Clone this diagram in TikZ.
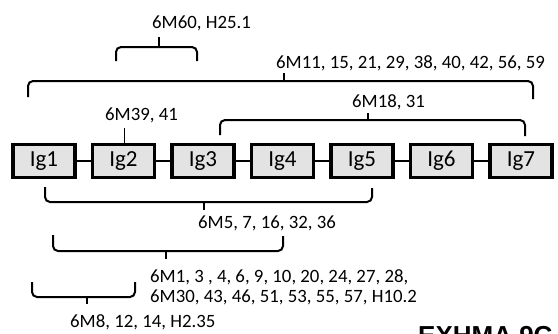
\documentclass[tikz,border=0pt]{standalone}
\usepackage{fontspec}
\setmainfont{Carlito}
\newfontfamily\exfont{Liberation Sans}
\begin{document}
\begin{tikzpicture}[x=1pt,y=-1pt,
  igbox/.style={draw=black, line width=3.4pt, fill=gray!22, minimum width=62pt, minimum height=32.5pt, inner sep=0pt, font=\fontsize{23}{26}\selectfont},
  conn/.style={line width=2.6pt},
  brk/.style={line width=2pt, rounded corners=5pt},
  tick/.style={line width=1.6pt},
  lbl/.style={inner sep=0pt, anchor=west, font=\fontsize{18.8}{22}\selectfont, text=black}
]
\useasboundingbox (0,0) rectangle (558,333);
\clip (0,0) rectangle (558,333);

% Ig domains
\foreach \i in {1,...,7} {
  \node[igbox] (ig\i) at ({44+79.5*(\i-1)},161) {Ig\i};
}
\foreach \i/\j in {1/2,2/3,3/4,4/5,5/6,6/7} {
  \draw[conn] (ig\i) -- (ig\j);
}

% top brackets
\draw[brk] (116,61) -- (116,47) -- (197,47) -- (197,61);
\draw[tick] (159,47) -- (159,37);
\node[lbl] (l60) at (152,23) {6M60, H25.1};

\draw[brk] (28,97) -- (28,81) -- (533,81) -- (533,99);
\draw[tick] (284,81) -- (284,73);
\node[lbl] (l11) at (276,63) {6M11, 15, 21, 29, 38, 40, 42, 56, 59};

\node[lbl] (l39) at (105,115) {6M39, 41};
\coordinate (t39) at (124.5,128);
\draw[tick] (t39) -- (t39 |- ig2.north);

\draw[brk] (220,135) -- (220,120) -- (525,120) -- (525,136);
\draw[tick] (368,120) -- (368,113);
\node[lbl] (l18) at (352,102) {6M18, 31};

% bottom brackets
\draw[brk] (45,187) -- (45,202) -- (372,202) -- (372,188);
\draw[tick] (204,202) -- (204,210);
\node[lbl] (l5) at (198,223) {6M5, 7, 16, 32, 36};

\draw[brk] (53,235) -- (53,251) -- (283,251) -- (283,236);
\draw[tick] (166,251) -- (166,259);
\node[lbl] (l1a) at (150,277) {6M1, 3 , 4, 6, 9, 10, 20, 24, 27, 28,};
\node[lbl] (l1b) at (150,297) {6M30, 43, 46, 51, 53, 55, 57, H10.2};

\draw[brk] (32,282) -- (32,297) -- (135,297) -- (135,282);
\draw[tick] (87,297) -- (87,304);
\node[lbl] (l8) at (70,322) {6M8, 12, 14, H2.35};

% cut-off caption
\node[inner sep=0pt, anchor=base west, font=\exfont\bfseries\fontsize{26}{30}\selectfont] (cap) at (418,344) {EXHMA 9C};
\end{tikzpicture}
\end{document}
